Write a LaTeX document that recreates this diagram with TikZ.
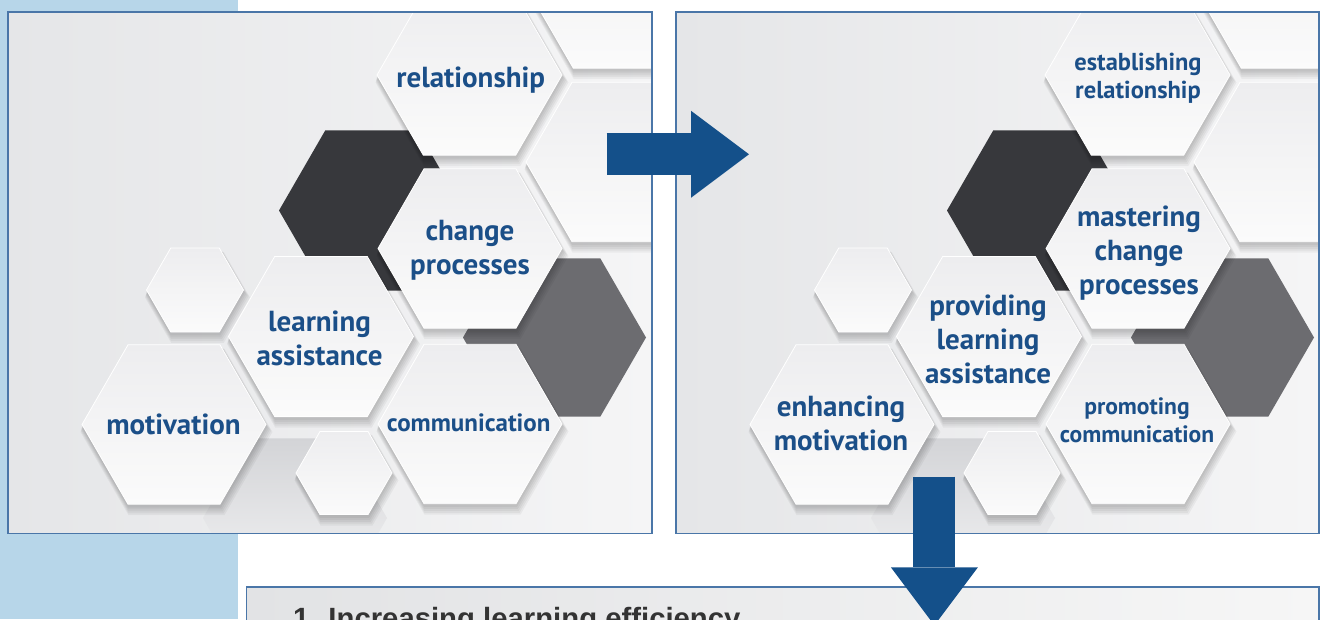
\documentclass[tikz,border=0pt]{standalone}
\usepackage{fontspec}
\setmainfont{PT Sans}
\newfontfamily\boxfont{Liberation Sans}
\usetikzlibrary{arrows.meta}

\definecolor{stripblue}{HTML}{B7D6E9}
\definecolor{frameblue}{HTML}{4A76A8}
\definecolor{arrowblue}{HTML}{14508A}
\definecolor{labelblue}{HTML}{1B4F88}
\definecolor{panelL}{HTML}{E5E6E8}
\definecolor{panelR}{HTML}{F5F5F6}
\definecolor{hexT}{HTML}{EDEDEF}
\definecolor{hexB}{HTML}{FBFBFB}
\definecolor{hexdark}{HTML}{37383C}
\definecolor{hexgray}{HTML}{6C6C70}
\definecolor{hexpale}{HTML}{D3D4D7}
\definecolor{boxtext}{HTML}{333333}
\definecolor{boxL}{HTML}{E2E3E5}
\definecolor{boxR}{HTML}{F6F6F6}

% hexagon with pointed left/right corners: centre (#1,#2), circumradius #3
\newcommand\hexpath[3]{({#1+(#3)},{#2}) -- ({#1+0.5*(#3)},{#2+0.8660*(#3)}) -- ({#1-0.5*(#3)},{#2+0.8660*(#3)}) -- ({#1-(#3)},{#2}) -- ({#1-0.5*(#3)},{#2-0.8660*(#3)}) -- ({#1+0.5*(#3)},{#2-0.8660*(#3)}) -- cycle}

% centred multi-line label, baseline on its last line
\newcommand\lines[1]{\begin{tabular}[b]{@{}c@{}}#1\end{tabular}}

\tikzset{
  panel/.style={inner sep=0pt, outer sep=0pt, minimum height=521.7pt,
    left color=panelL, right color=panelR},
  frame/.style={draw=frameblue, line width=1.4pt},
  hexface/.style={top color=hexT, bottom color=hexB, draw=white, line width=0.8pt},
  hexshadow/.style={fill=black, opacity=0.045},
  lbl/.style={text=labelblue, inner sep=0pt, anchor=base,
    font=\bfseries\fontsize{29}{34}\selectfont},
  lblsmall/.style={lbl, font=\bfseries\fontsize{24.5}{28}\selectfont},
  lblnarrow/.style={lbl, font=\bfseries\fontsize{23.6}{27.5}\selectfont},
  lblmid/.style={lbl, font=\bfseries\fontsize{25}{30}\selectfont},
  blockarrow/.style={draw=arrowblue, line width=42pt,
    -{Triangle[width=87pt, length=58pt, line width'=0pt]}},
  boxst/.style={inner sep=0pt, outer sep=0pt, left color=boxL, right color=boxR,
    draw=frameblue, line width=1.4pt},
  boxtxt/.style={text=boxtext, inner sep=0pt,
    font=\boxfont\bfseries\fontsize{29.3}{34}\selectfont},
}

% the honeycomb drawn inside each panel
\newcommand\hexfield{%
  \path[top color=hexpale, bottom color=panelR] \hexpath{295}{518}{92};
  \fill[hexdark] \hexpath{371.5}{210.5}{92.5};
  \fill[hexgray] \hexpath{554.5}{337.5}{91.5};
  \foreach \cx/\cy/\hr in {469.5/75/92.5, 470/248.5/92, 470/424/92, 321/336.5/92.5,
      174/424.5/92, 619.5/-12/92.5, 618/162/92, 195/290/48.5, 344/473/48}{
    \foreach \k in {1,...,5}{
      \path[hexshadow] \hexpath{\cx+0.5*\k}{\cy+1.5+1.2*\k}{\hr+0.8*\k};
    }
  }
  \foreach \cx/\cy/\hr in {469.5/75/92.5, 470/248.5/92, 470/424/92, 321/336.5/92.5,
      174/424.5/92, 619.5/-12/92.5, 618/162/92, 195/290/48.5, 344/473/48}{
    \path[hexface] \hexpath{\cx}{\cy}{\hr};
  }
}

\begin{document}
\begin{tikzpicture}[x=1pt, y=-1pt]
  \useasboundingbox (0,0) rectangle (1323,619);
  \clip (0,0) rectangle (1323,619);

  % side strip
  \fill[stripblue] (0,0) rectangle (237.5,619);

  % left panel
  \node[panel, minimum width=644pt] (P1) at (330,272.65) {};
  \begin{scope}
    \clip (P1.south west) rectangle (P1.north east);
    \hexfield
  \end{scope}
  \draw[frame] (P1.south west) rectangle (P1.north east);

  \node[lbl] (tRel) at (470.7,87) {relationship};
  \node[lbl] (tChg) at (470,274.4) {\lines{change\\processes}};
  \node[lbl] (tLrn) at (319.5,365) {\lines{learning\\assistance}};
  \node[lbl] (tMot) at (173.5,434) {motivation};
  \node[lblmid] (tCom) at (468.7,431.5) {communication};

  % right panel
  \node[panel, minimum width=643pt] (P2) at (997.5,272.65) {};
  \begin{scope}
    \clip (P2.south west) rectangle (P2.north east);
    \begin{scope}[xshift=668pt]
      \hexfield
    \end{scope}
  \end{scope}
  \draw[frame] (P2.south west) rectangle (P2.north east);

  \node[lblsmall] (uRel) at (1138,98.7) {\lines{establishing\\relationship}};
  \node[lbl] (uChg) at (1139,294) {\lines{mastering\\change\\processes}};
  \node[lbl] (uLrn) at (988,383) {\lines{providing\\learning\\assistance}};
  \node[lbl] (uMot) at (841,450) {\lines{enhancing\\motivation}};
  \node[lblnarrow] (uCom) at (1137,442) {\lines{promoting\\communication}};

  % result box
  \node[boxst, minimum width=1072.5pt, minimum height=60pt] (P3) at (782.75,617) {};
  \node[boxtxt, anchor=base west] (T1) at (293,628) {1. Increasing learning efficiency};

  % block arrows
  \coordinate (rA) at (606.7,154.3);
  \coordinate (rB) at (749,154.3);
  \draw[blockarrow] (rA) -- (rB);
  \coordinate (dA) at (934.4,476.7);
  \coordinate (dB) at (934.4,625.3);
  \draw[blockarrow] (dA) -- (dB);
\end{tikzpicture}
\end{document}
